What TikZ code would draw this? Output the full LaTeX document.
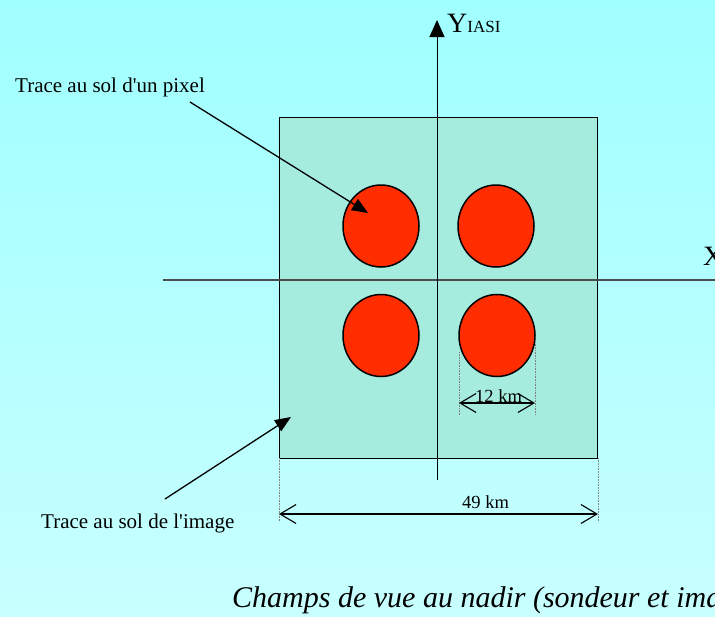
\documentclass[tikz,border=0pt]{standalone}
\usepackage{fontspec}
\setmainfont{Liberation Serif}
\usetikzlibrary{arrows.meta,shapes.geometric}
\definecolor{bgtop}{RGB}{160,255,255}
\definecolor{bgbot}{RGB}{200,255,255}
\definecolor{sqfill}{RGB}{165,236,222}
\definecolor{pixred}{RGB}{255,45,0}
\begin{document}
\begin{tikzpicture}[x=1pt,y=-1pt,
  lbl/.style={font=\fontsize{21}{24}\selectfont, inner sep=0pt, anchor=base west},
  km/.style={font=\fontsize{18.5}{21}\selectfont, inner sep=0pt, anchor=base west},
  pix/.style={draw=black, line width=1.5pt, fill=pixred, ellipse, minimum width=76pt, minimum height=82pt, inner sep=0pt},
  ptr/.style={line width=1.3pt, -{Triangle[length=16pt,width=13pt]}},
  dimline/.style={line width=1.1pt, {Straight Barb[length=16pt,width=19pt,line width=1.1pt]}-{Straight Barb[length=16pt,width=19pt,line width=1.1pt]}},
  guide/.style={densely dotted, gray, line width=0.6pt}]
\useasboundingbox (0,0) rectangle (715,616);
\clip (0,0) rectangle (715,616);
\shade[top color=bgtop, bottom color=bgbot] (0,0) rectangle (715,616);
% footprint of the image
\node[draw=black, line width=1pt, fill=sqfill, minimum width=318pt, minimum height=341pt, inner sep=0pt] (sq) at (438,287.5) {};
% axes
\coordinate (xs) at (163,280);
\coordinate (xe) at (720,280);
\draw[gray!60!black, line width=1.1pt] (xs) -- (xe);
\coordinate (ys) at (437,480);
\coordinate (ye) at (437,20);
\draw[line width=1pt, -{Triangle[length=17pt,width=15pt]}] (ys) -- (ye);
\node[inner sep=0pt, anchor=base west, font=\fontsize{28}{30}\selectfont] (ylab) at (447,32) {Y\fontsize{17}{18}\selectfont IASI};
\node[inner sep=0pt, anchor=base west, font=\fontsize{28}{30}\selectfont] (xlab) at (703,265) {X\fontsize{17}{18}\selectfont IASI};
% pixels
\node[pix] (p1) at (381,226) {};
\node[pix] (p2) at (496,226) {};
\node[pix] (p3) at (381,335.5) {};
\node[pix] (p4) at (497,335.5) {};
% 12 km dimension
\coordinate (g1a) at (459,352);
\coordinate (g1b) at (459,415);
\coordinate (g2a) at (535,342);
\coordinate (g2b) at (535,415);
\draw[guide] (g1a) -- (g1b);
\draw[guide] (g2a) -- (g2b);
\coordinate (d1a) at (459,403);
\coordinate (d1b) at (535,403);
\draw[dimline] (d1a) -- (d1b);
\node[km] (l12) at (475,402) {12 km};
% 49 km dimension
\coordinate (g3a) at (279,458);
\coordinate (g3b) at (279,522);
\coordinate (g4a) at (598,458);
\coordinate (g4b) at (598,522);
\draw[guide] (g3a) -- (g3b);
\draw[guide] (g4a) -- (g4b);
\coordinate (d2a) at (279,514);
\coordinate (d2b) at (598,514);
\draw[dimline] (d2a) -- (d2b);
\node[km] (l49) at (462,508) {49 km};
% labels and pointers
\node[lbl] (lpix) at (15,92) {Trace au sol d\textquotesingle un pixel};
\coordinate (a1s) at (190,102);
\coordinate (a1e) at (368,213);
\draw[ptr] (a1s) -- (a1e);
\node[lbl] (limg) at (41,528) {Trace au sol de l\textquotesingle image};
\coordinate (a2s) at (165,499);
\coordinate (a2e) at (291,417);
\draw[ptr] (a2s) -- (a2e);
% caption
\node[inner sep=0pt, anchor=base west, font=\fontsize{30}{33}\selectfont\itshape] (cap) at (232,607) {Champs de vue au nadir (sondeur et imageur)};
\end{tikzpicture}
\end{document}
